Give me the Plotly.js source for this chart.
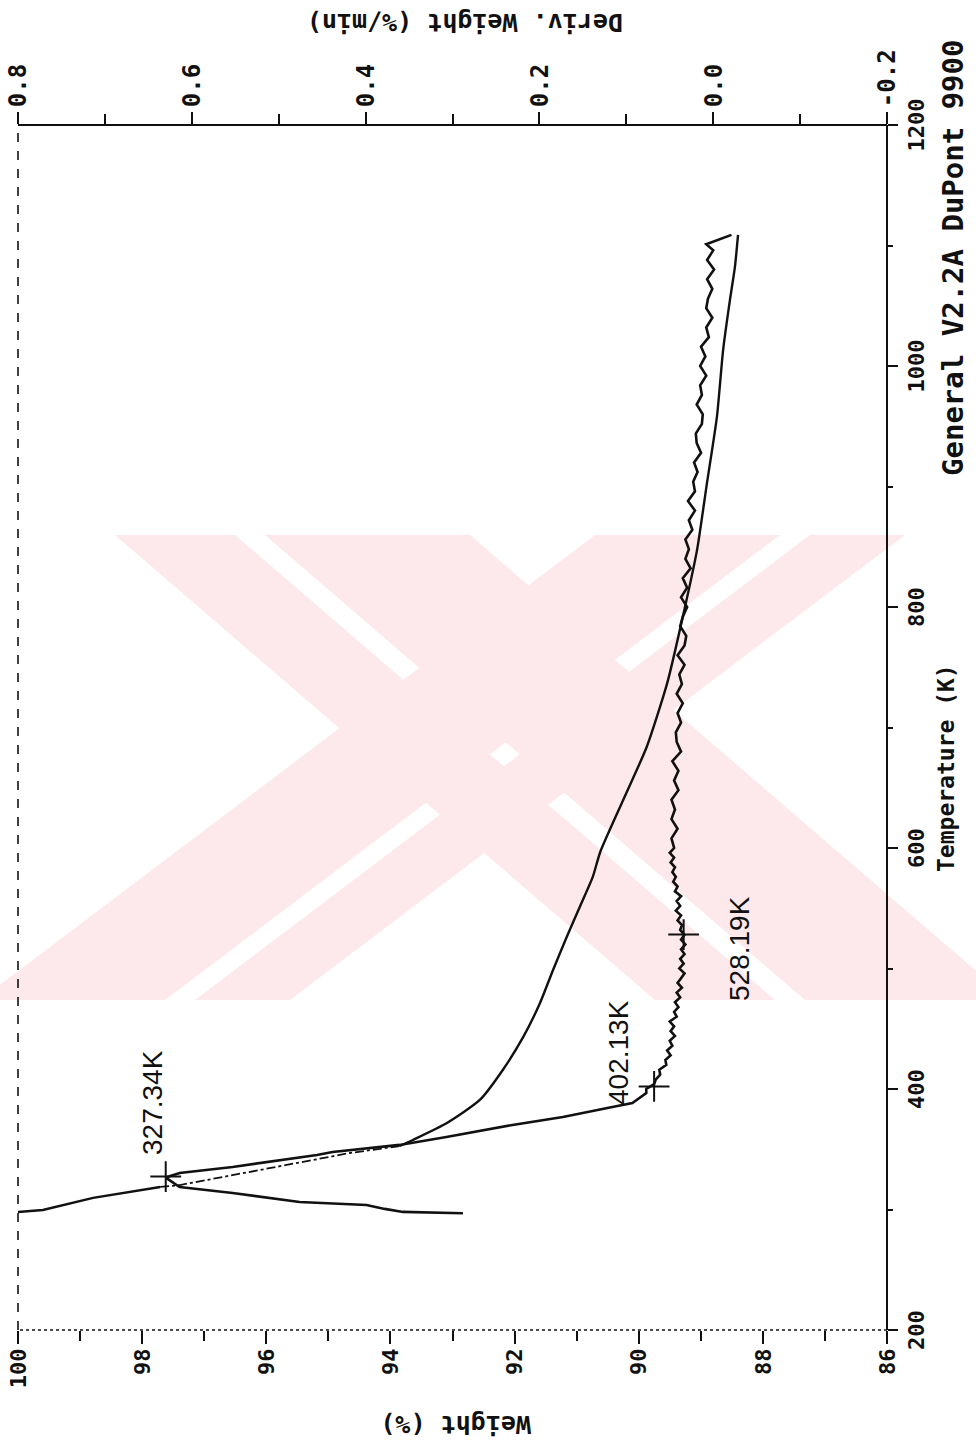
<!DOCTYPE html>
<html>
<head>
<meta charset="utf-8">
<script src="https://cdn.plot.ly/plotly-3.0.1.min.js"></script>
<style>
html,body{margin:0;padding:0;background:#fff;overflow:hidden;width:976px;height:1448px;}
#plot{position:absolute;left:0;top:0;width:1448px;height:976px;transform-origin:0 0;transform:translate(0px,1448px) rotate(-90deg);}
</style>
</head>
<body>
<div id="plot"></div>
<script>
// ---- Data (Temperature in K, Weight in %, Deriv. Weight in %/min) ----
const weightT1 = [297.9, 299.6, 309.6, 318.7];
const weightW1 = [100.0, 99.60, 98.79, 97.71];
const weightT2 = [318.7, 320.3, 333.6, 346.9, 352.7];
const weightW2 = [97.71, 97.39, 96.02, 94.65, 93.85];
const weightT3 = [352.7, 357.7, 371.8, 390.9, 415.8, 443.2, 471.4, 498.8, 526.2, 551.1, 576.0, 596.7, 639.9, 684.0, 737.0, 791.8, 847.4, 903.0, 957.8, 1013.4, 1054.9, 1082.3, 1108.9];
const weightW3 = [93.85, 93.64, 93.09, 92.56, 92.19, 91.86, 91.59, 91.38, 91.16, 90.95, 90.74, 90.62, 90.25, 89.87, 89.54, 89.29, 89.06, 88.90, 88.74, 88.64, 88.53, 88.45, 88.40];

const derivT = [296.9, 297.6, 297.2, 298.0, 300.5, 303.8, 306.2, 313.7, 318.7, 326.5, 330.3, 335.3, 345.2, 347.7, 353.6, 360.2, 370.2, 376.8, 385.1, 388.4, 396.7,
  400, 404, 408, 412, 416, 420, 424, 428, 432, 436, 440, 444, 448, 452, 456, 460, 464, 468, 472, 476, 480, 484, 488, 492, 496,
  500, 504, 508, 512, 516, 520, 524, 528, 532, 536, 540, 544, 548, 552, 556, 560, 564, 568, 572, 576, 580, 584, 588, 592, 596,
  600, 608, 616, 624, 632, 640, 648, 656, 664, 672, 680, 688, 696, 704, 712, 720, 728, 736, 744, 752, 760, 768, 776, 784, 792,
  800, 808, 816, 824, 832, 840, 848, 856, 864, 872, 880, 888, 896, 904, 912, 920, 928, 936, 944, 952, 960, 968, 976, 984, 992,
  1000, 1008, 1016, 1024, 1032, 1040, 1048, 1056, 1064, 1072, 1080, 1088, 1096, 1101, 1108.8];
const derivD = [0.288, 0.357, 0.295, 0.357, 0.378, 0.399, 0.476, 0.553, 0.614, 0.630, 0.614, 0.553, 0.456, 0.438, 0.361, 0.307, 0.231, 0.173, 0.116, 0.093, 0.077,
  0.077, 0.068, 0.066, 0.061, 0.062, 0.054, 0.055, 0.049, 0.053, 0.047, 0.050, 0.044, 0.049, 0.045, 0.050, 0.042, 0.045, 0.040, 0.044, 0.038, 0.042, 0.036, 0.041, 0.037, 0.033,
  0.039, 0.034, 0.038, 0.033, 0.037, 0.032, 0.037, 0.033, 0.038, 0.036, 0.041, 0.037, 0.043, 0.038, 0.042, 0.037, 0.044, 0.041, 0.046, 0.043, 0.047, 0.044, 0.049, 0.045, 0.050,
  0.045, 0.048, 0.041, 0.048, 0.044, 0.048, 0.040, 0.045, 0.040, 0.047, 0.037, 0.042, 0.043, 0.037, 0.041, 0.035, 0.042, 0.036, 0.039, 0.033, 0.041, 0.033, 0.031, 0.038, 0.035,
  0.030, 0.037, 0.030, 0.035, 0.026, 0.032, 0.028, 0.032, 0.024, 0.028, 0.021, 0.029, 0.021, 0.023, 0.018, 0.022, 0.014, 0.019, 0.020, 0.013, 0.012, 0.019, 0.013, 0.015, 0.008,
  0.015, 0.009, 0.014, 0.005, 0.008, 0.001, 0.008, 0.006, 0.001, 0.007, -0.001, 0.007, 0.000, 0.008, -0.021];

const markerT = [327.34, 402.13, 528.19];
const markerD = [0.630, 0.068, 0.034];
const markerLabels = ["327.34K", "402.13K", "528.19K"];

const tempTicks = [200, 400, 600, 800, 1000, 1200];
const weightTicks = [86, 88, 90, 92, 94, 96, 98, 100];
const derivTicks = [-0.2, 0.0, 0.2, 0.4, 0.6, 0.8];
const derivTickText = ["-0.2", "0.0", "0.2", "0.4", "0.6", "0.8"];

const ink = "#111111";
const monoBold = {family: "DejaVu Sans Mono", size: 22, color: ink, weight: "bold"};

const traces = [
  {x: weightT1, y: weightW1, mode: "lines", line: {color: ink, width: 2.4}, yaxis: "y"},
  {x: weightT2, y: weightW2, mode: "lines", line: {color: ink, width: 1.8, dash: "dashdot"}, yaxis: "y"},
  {x: weightT3, y: weightW3, mode: "lines", line: {color: ink, width: 2.4, shape: "spline", smoothing: 0.6}, yaxis: "y"},
  {x: derivT, y: derivD, mode: "lines", line: {color: ink, width: 2.6}, yaxis: "y2"},
  {x: markerT, y: markerD, mode: "markers", marker: {symbol: "cross-thin", size: 22, line: {color: ink, width: 2}}, yaxis: "y2"}
];

const labelPos = [
  {x: 343.6, y: 97.84, xanchor: "left"},
  {x: 385.1, y: 90.33, xanchor: "left"},
  {x: 517.0, y: 88.37, xanchor: "center"}
];
const annotations = markerLabels.map((t, i) => ({
  text: t, x: labelPos[i].x, y: labelPos[i].y, xref: "x", yref: "y",
  xanchor: labelPos[i].xanchor, yanchor: "middle", showarrow: false,
  font: {family: "Liberation Sans", size: 28, color: ink}
}));
annotations.push(
  {text: "Weight (%)", xref: "paper", yref: "paper", x: -0.078, y: 0.496, textangle: -90, showarrow: false,
   xanchor: "center", yanchor: "middle", font: {family: "DejaVu Sans Mono", size: 25, color: ink, weight: "bold"}},
  {text: "Deriv. Weight (%/min)", xref: "paper", yref: "paper", x: 1.0846, y: 0.4856, textangle: -90, showarrow: false,
   xanchor: "center", yanchor: "middle", font: {family: "DejaVu Sans Mono", size: 25, color: ink, weight: "bold"}},
  {text: "Temperature (K)", xref: "paper", yref: "paper", x: 0.4664, y: -0.068, showarrow: false,
   xanchor: "center", yanchor: "middle", font: {family: "DejaVu Sans Mono", size: 23, color: ink, weight: "bold"}},
  {text: "General V2.2A DuPont 9900", xref: "paper", yref: "paper", x: 1.073, y: -0.076, showarrow: false,
   xanchor: "right", yanchor: "middle", font: {family: "DejaVu Sans Mono", size: 29, color: ink, weight: "bold"}}
);

// background watermark (decorative), defined in page pixels of the rotated picture
function pagePt(sx, sy) {
  const ox = 1448 - sy, oy = sx;
  return ((ox - 118) / 1205).toFixed(4) + "," + ((887 - oy) / 869).toFixed(4);
}
function stripe(topC, botC, a, b) {
  return "M" + pagePt(topC + a, 535) + " L" + pagePt(topC + b, 535) +
         " L" + pagePt(botC + b, 1000) + " L" + pagePt(botC + a, 1000) + " Z";
}
const wmColor = "#fde8ec";
const watermark = [
  stripe(290, 830, -175, -55), stripe(290, 830, -25, 180),
  stripe(750, 135, -155, 30), stripe(750, 135, 60, 155)
].map(p => ({type: "path", xref: "paper", yref: "paper", path: p, fillcolor: wmColor, line: {width: 0}, layer: "below"}));

const shapes = watermark.concat([
  {type: "line", xref: "paper", yref: "paper", x0: 0, x1: 1, y0: 0, y1: 0, line: {color: ink, width: 2}},
  {type: "line", xref: "paper", yref: "paper", x0: 1, x1: 1, y0: 0, y1: 1, line: {color: ink, width: 2}},
  {type: "line", xref: "paper", yref: "paper", x0: 0, x1: 0, y0: 0, y1: 1, line: {color: ink, width: 1.6, dash: "dot"}},
  {type: "line", xref: "paper", yref: "paper", x0: 0, x1: 1, y0: 1, y1: 1, line: {color: ink, width: 1.6, dash: "dash"}}
]);

const layout = {
  width: 1448, height: 976,
  margin: {l: 118, r: 125, t: 18, b: 89},
  paper_bgcolor: "#ffffff", plot_bgcolor: "rgba(0,0,0,0)",
  showlegend: false,
  xaxis: {range: [200, 1200], tickvals: tempTicks, ticks: "outside", ticklen: 10, tickwidth: 2, tickcolor: ink,
          showgrid: false, zeroline: false, showline: false, tickfont: monoBold,
          minor: {dtick: 100, tick0: 200, ticks: "outside", ticklen: 5, tickwidth: 2, tickcolor: ink, showgrid: false}},
  yaxis: {range: [86, 100], tickvals: weightTicks, ticks: "outside", ticklen: 13, tickwidth: 2, tickcolor: ink,
          showgrid: false, zeroline: false, showline: false, tickfont: monoBold,
          minor: {dtick: 1, tick0: 86, ticks: "outside", ticklen: 10, tickwidth: 2, tickcolor: ink, showgrid: false}},
  yaxis2: {range: [-0.2, 0.8], overlaying: "y", side: "right", tickvals: derivTicks, ticktext: derivTickText,
           ticks: "outside", ticklen: 12, tickwidth: 2, tickcolor: ink,
           showgrid: false, zeroline: false, showline: false, tickfont: {family: "DejaVu Sans Mono", size: 24, color: ink, weight: "bold"},
           minor: {dtick: 0.1, tick0: -0.2, ticks: "outside", ticklen: 10, tickwidth: 2, tickcolor: ink, showgrid: false}},
  annotations: annotations,
  shapes: shapes
};

Plotly.newPlot("plot", traces, layout, {staticPlot: true, displayModeBar: false});
</script>
</body>
</html>
